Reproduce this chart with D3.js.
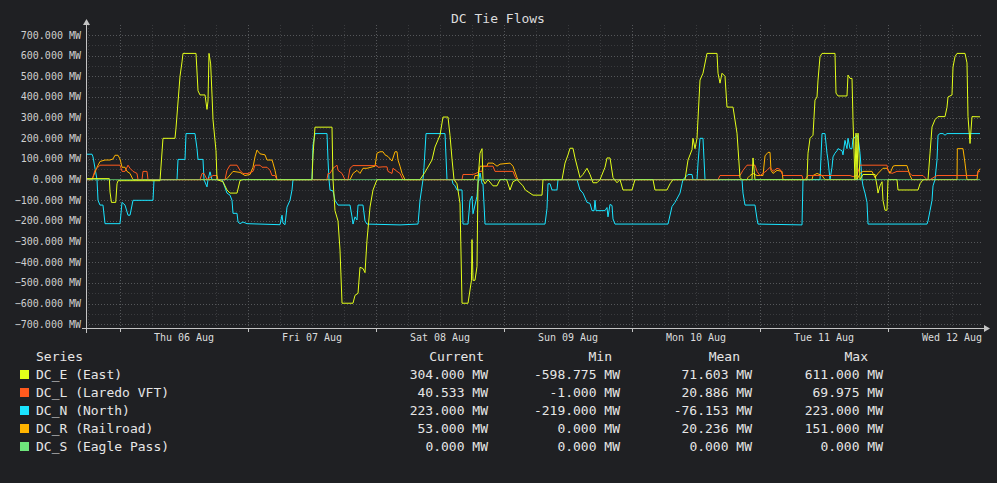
<!DOCTYPE html>
<html>
<head>
<meta charset="utf-8">
<script src="https://cdn.jsdelivr.net/npm/d3@7"></script>
<style>
  html, body { margin: 0; padding: 0; background: #1f2023; }
  svg { display: block; font-family: "DejaVu Sans Mono", monospace; }
</style>
</head>
<body>
<div id="chart"></div>
<script>
// times are hours since Wed 05 Aug 2020 00:00 UTC, values in MW
const dcE = [
  [17.63, 5], [22.0, 5], [22.13, -60], [22.4, -110], [23.2, -110], [23.44, -20], [23.63, -5], [31.5, -5],
  [32.06, 200], [34.31, 200], [34.5, 250], [35.25, 500], [35.63, 570], [35.81, 611], [38.25, 611],
  [38.63, 430], [39.0, 410], [39.94, 410], [40.31, 340], [40.5, 380], [40.69, 611], [41.0, 560],
  [41.25, 410], [41.44, 290], [42.0, 140], [42.19, 0], [43.3, -10], [44.06, -50], [44.63, -65],
  [45.94, -65], [46.5, -5], [47.0, 0], [60.0, 0], [60.19, 120], [60.56, 254], [63.75, 254], [63.94, 0],
  [64.31, -150], [64.88, -200], [65.25, -340], [65.63, -598], [67.69, -598], [68.06, -560], [68.63, -550],
  [69.0, -424], [69.56, -430], [69.94, -450], [70.31, -293], [70.88, -133], [71.44, -50], [72.19, 0],
  [80.25, 0], [81.19, 36], [82.5, 95], [83.06, 158], [84.0, 215], [84.56, 303], [85.5, 303], [85.88, 213],
  [86.25, 100], [86.63, 0], [87.19, -20], [87.75, -115], [88.13, -598], [89.25, -598], [89.9, -487],
  [90.0, -290], [90.19, -487], [90.56, -487], [90.94, -420], [91.13, 0], [91.5, 128], [91.88, 150],
  [92.06, 0], [92.44, -20], [93.0, 0], [93.94, -30], [94.69, -30], [95.25, 0], [96.5, 0], [97.13, -50],
  [97.69, -10], [98.44, 0], [99.56, -30], [100.0, -50], [101.44, -75], [103.13, -75], [103.31, 0],
  [106.88, 0], [107.44, 80], [108.0, 120], [108.38, 152], [108.94, 152], [109.31, 105], [110.25, 10],
  [110.81, 25], [111.56, 55], [112.13, 25], [112.69, -15], [113.44, -15], [114.0, 0], [114.94, 60],
  [115.31, 105], [115.88, 105], [116.44, 10], [117.19, -15], [117.75, 0], [118.31, -50], [120.0, -50],
  [120.56, 0], [123.94, 0], [124.31, -50], [126.56, -50], [127.13, -20], [127.69, 0], [129.94, 0],
  [130.5, 95], [131.25, 145], [131.44, 200], [131.81, 150], [132.19, 200], [132.75, 482], [133.31, 515],
  [134.06, 611], [135.94, 611], [136.13, 515], [136.5, 467], [136.88, 515], [137.44, 500], [137.81, 351],
  [138.94, 351], [139.69, 225], [140.25, 10], [140.63, 0], [142.5, 0], [142.69, 105], [143.06, 0],
  [152.81, 0], [153.0, 128], [153.38, 200], [153.94, 215], [154.31, 385], [154.69, 400], [154.88, 482],
  [155.25, 595], [155.63, 611], [158.06, 611], [158.25, 419], [158.63, 405], [160.31, 405], [160.5, 506],
  [160.88, 490], [161.25, 490], [161.44, 288], [161.81, 0], [162.0, 225], [162.19, 0], [162.38, 225],
  [162.75, 0], [163.31, 25], [165.56, 25], [165.94, -30], [166.13, -65], [166.5, -30], [166.88, -10],
  [167.06, -100], [167.44, -148], [167.81, -148], [168.0, 0], [169.69, 0], [169.88, -50], [173.63, -50],
  [174.0, -20], [174.56, 0], [175.5, 0], [175.88, 128], [176.25, 255], [176.81, 290], [177.38, 305],
  [178.69, 305], [179.06, 350], [179.25, 400], [180.0, 410], [180.19, 545], [180.56, 595], [180.94, 611],
  [182.44, 611], [182.81, 565], [183.0, 305], [183.38, 175], [183.75, 305], [185.25, 304]
];
const dcL = [
  [17.63, 0], [18.75, 0], [18.94, 14], [19.31, 45], [19.88, 60], [20.25, 70], [24.0, 70], [24.38, 40],
  [24.94, 40], [25.5, 70], [25.88, 55], [26.44, 40], [27.19, 30], [27.38, 0], [28.13, 0], [28.31, 40],
  [29.06, 40], [29.25, 0], [39.0, 0], [39.38, 30], [39.75, 30], [40.31, 0], [41.44, 20], [42.19, 20],
  [42.38, 0], [43.69, 0], [44.06, 45], [44.63, 70], [45.94, 70], [46.5, 45], [47.06, 30], [48.0, 30],
  [48.94, 40], [49.31, 70], [50.25, 70], [50.63, 60], [51.56, 60], [52.13, 45], [52.5, 20], [53.06, 20],
  [53.44, 0], [62.81, 0], [63.0, 30], [63.38, 30], [63.94, 55], [64.69, 70], [64.88, 45], [65.63, 30],
  [66.19, 0], [66.75, 0], [67.13, 55], [67.69, 68], [72.19, 68], [72.38, 60], [73.31, 62], [74.06, 62],
  [74.25, 40], [75.0, 30], [75.19, 55], [75.94, 40], [76.5, 30], [77.06, 0], [88.13, 0], [88.31, 25],
  [90.0, 25], [90.56, 28], [91.5, 40], [91.88, 40], [92.06, 65], [93.94, 65], [94.31, 40], [97.69, 40],
  [98.06, 15], [98.44, 0], [136.13, 0], [136.5, 20], [140.25, 20], [140.81, 45], [141.56, 70],
  [143.06, 70], [143.44, 40], [144.0, 20], [144.56, 30], [145.31, 45], [145.88, 60], [146.44, 40],
  [147.19, 55], [147.75, 50], [148.31, 20], [151.88, 20], [152.06, 0], [152.44, 0], [153.0, 20],
  [160.88, 20], [161.44, 15], [162.19, 20], [162.75, 70], [167.81, 70], [168.0, 45], [168.75, 30],
  [169.69, 40], [171.75, 40], [172.5, 20], [174.56, 20], [175.31, 0], [175.88, 0], [177.19, 20],
  [184.69, 20], [184.88, 40], [185.25, 40.5]
];
const dcN = [
  [17.63, 123], [18.75, 123], [18.94, 110], [19.69, 0], [19.88, -100], [20.25, -123], [20.81, -123],
  [21.19, -213], [24.0, -213], [24.38, -110], [24.94, -123], [25.5, -172], [25.88, -172], [26.44, -100],
  [30.19, -100], [30.38, 0], [34.69, 0], [34.88, 98], [36.19, 98], [36.38, 223], [38.06, 223],
  [38.44, 150], [38.63, 98], [39.56, 98], [39.75, 0], [40.31, -35], [40.5, 0], [40.88, 38], [41.25, 0],
  [43.13, 0], [43.31, -10], [44.06, -65], [44.63, -75], [45.0, -100], [45.19, -163], [45.94, -163],
  [46.13, -205], [46.5, -213], [47.06, -205], [47.81, -213], [54.0, -218], [54.38, -172], [54.56, -210],
  [54.94, -218], [55.31, -133], [55.88, -100], [56.25, -50], [56.44, 0], [60.0, 0], [60.19, 167],
  [60.56, 223], [62.81, 223], [63.0, 95], [63.19, 0], [63.38, -50], [63.94, -55], [64.31, -100],
  [64.88, -123], [67.13, -123], [67.5, -180], [67.69, -215], [68.06, -180], [68.44, -195], [68.63, -123],
  [69.56, -123], [69.94, -200], [70.31, -215], [76.5, -219], [79.88, -215], [80.25, -100], [80.81, 0],
  [81.0, 60], [81.38, 223], [84.94, 223], [85.31, 0], [86.25, 0], [86.44, -20], [86.81, -30],
  [87.19, -50], [88.13, -50], [88.31, -215], [89.25, -215], [89.63, -100], [90.0, -80], [90.19, -165],
  [90.94, -80], [91.13, -20], [91.5, 32], [91.88, -20], [92.06, -20], [92.44, -215], [103.69, -215],
  [104.06, -140], [104.25, -20], [104.63, -20], [105.0, -50], [105.94, -50], [106.13, 0], [109.69, 0],
  [110.25, -50], [110.81, -65], [111.56, -110], [112.13, -115], [112.5, -150], [112.9, -150],
  [113.06, -100], [113.25, -150], [114.94, -150], [115.31, -135], [115.5, -180], [115.88, -120],
  [116.25, -125], [116.44, -190], [116.81, -215], [126.75, -215], [127.5, -130], [128.06, -110],
  [129.0, -65], [129.38, -20], [129.56, 0], [130.5, 25], [131.25, 25], [131.44, 0], [132.19, 0],
  [132.38, 80], [132.75, 200], [133.31, 200], [133.69, 0], [140.63, 0], [140.81, -65], [141.19, -123],
  [143.06, -123], [143.44, -190], [143.63, -215], [151.88, -219], [152.06, 0], [155.25, 0],
  [155.63, 223], [156.19, 223], [156.56, 128], [156.75, 95], [157.13, 0], [157.5, 60], [157.69, 110],
  [158.06, 128], [158.44, 140], [158.63, 150], [159.38, 140], [159.56, 120], [159.94, 190],
  [160.31, 150], [160.5, 200], [160.88, 150], [161.25, 150], [161.44, 200], [161.81, 205], [162.19, 215],
  [162.38, 205], [162.75, 128], [163.13, 0], [163.31, -30], [163.69, -65], [164.06, -110], [164.25, -215],
  [175.31, -215], [175.5, -200], [175.88, -150], [176.25, -100], [176.44, -30], [176.81, 0],
  [177.19, 95], [177.38, 215], [177.75, 223], [178.31, 223], [178.69, 215], [179.06, 223], [185.25, 223]
];
const dcR = [
  [17.63, 0], [18.75, 0], [19.69, 60], [20.25, 88], [21.19, 95], [22.13, 95], [22.69, 100],
  [23.06, 118], [23.63, 118], [24.0, 100], [24.38, 60], [24.94, 60], [25.31, 40], [25.88, 30],
  [26.44, 0], [43.69, 0], [44.06, 5], [45.19, 40], [46.5, 35], [47.44, 20], [48.38, 25], [48.94, 60],
  [49.31, 110], [49.69, 143], [50.25, 125], [51.19, 120], [51.56, 95], [52.5, 95], [52.69, 80],
  [53.06, 45], [53.44, 0], [67.13, 0], [67.69, 30], [68.44, 45], [69.0, 30], [69.56, 55], [70.31, 55],
  [71.81, 65], [72.19, 128], [72.75, 135], [73.31, 135], [73.69, 120], [74.25, 112], [75.0, 90],
  [75.56, 135], [75.94, 135], [76.13, 95], [76.5, 65], [76.88, 30], [77.44, 0], [90.4, 0], [90.56, 20],
  [91.13, 20], [91.5, 65], [92.81, 65], [93.0, 80], [93.94, 80], [94.69, 65], [95.25, 75], [97.13, 80],
  [97.69, 65], [98.44, 10], [98.63, 0], [141.56, 0], [141.75, 10], [142.13, 20], [142.69, 30],
  [143.44, 20], [144.56, 20], [144.94, 115], [145.5, 132], [145.88, 132], [146.06, 45], [146.44, 30],
  [147.19, 45], [148.13, 40], [148.31, 0], [153.75, 0], [153.94, 20], [154.69, 30], [155.63, 20],
  [156.19, 0], [162.19, 0], [162.75, 30], [163.31, 40], [165.0, 40], [165.56, 10], [166.13, 30],
  [167.06, 55], [167.81, 55], [168.38, 30], [168.94, 65], [169.31, 68], [171.56, 68], [172.13, 20],
  [172.5, 0], [180.94, 0], [181.0, 150], [182.06, 150], [182.44, 80], [182.81, 0], [184.69, 0],
  [184.88, 40], [185.25, 53]
];
const dcS = [[17.63, 0], [185.25, 0]];

const seriesNames = ['DC_E (East)', 'DC_L (Laredo VFT)', 'DC_N (North)', 'DC_R (Railroad)', 'DC_S (Eagle Pass)'];
const seriesColors = ['#e4ff1a', '#ff5a1e', '#1ae4ff', '#ffb400', '#6ee67c'];
const seriesData = [dcE, dcL, dcN, dcR, dcS];
const statHeaders = ['Current', 'Min', 'Mean', 'Max'];
const currentVals = ['304.000 MW', '40.533 MW', '223.000 MW', '53.000 MW', '0.000 MW'];
const minVals = ['-598.775 MW', '-1.000 MW', '-219.000 MW', '0.000 MW', '0.000 MW'];
const meanVals = ['71.603 MW', '20.886 MW', '-76.153 MW', '20.236 MW', '0.000 MW'];
const maxVals = ['611.000 MW', '69.975 MW', '223.000 MW', '151.000 MW', '0.000 MW'];
const yTicks = d3.range(-700, 701, 100);
const yMinorTicks = d3.range(-650, 700, 100);

const W = 997, H = 483;
const T0 = Date.UTC(2020, 7, 5);
const toDate = (h) => new Date(T0 + h * 3600e3);

const svg = d3.select('#chart').append('svg').attr('width', W).attr('height', H);
svg.append('rect').attr('width', W).attr('height', H).attr('fill', '#1f2023');

const x = d3.scaleUtc().domain([toDate(17.625), toDate(185.625)]).range([86, 982]);
const y = d3.scaleLinear().domain([-700, 700]).range([324.3, 35]);
const plotTop = 25, plotBottom = 329;

// title
svg.append('text').attr('x', 498).attr('y', 23).attr('text-anchor', 'middle')
  .attr('fill', '#dcdcdc').attr('font-size', 13).text('DC Tie Flows');

// grid
const grid = svg.append('g').attr('fill', 'none');
grid.selectAll('.ymin').data(yMinorTicks).join('line')
  .attr('x1', 86).attr('x2', 983).attr('y1', (d) => Math.round(y(d)) + 0.5).attr('y2', (d) => Math.round(y(d)) + 0.5)
  .attr('stroke', '#3a3b3e').attr('stroke-dasharray', '1,2');
grid.selectAll('.ymaj').data(yTicks).join('line')
  .attr('x1', 86).attr('x2', 983).attr('y1', (d) => Math.round(y(d)) + 0.5).attr('y2', (d) => Math.round(y(d)) + 0.5)
  .attr('stroke', '#55575a').attr('stroke-dasharray', '1,2');
const hours6 = d3.utcHour.every(6).range(x.domain()[0], x.domain()[1]);
grid.selectAll('.xg').data(hours6).join('line')
  .attr('x1', (d) => Math.round(x(d)) + 0.5).attr('x2', (d) => Math.round(x(d)) + 0.5)
  .attr('y1', plotTop).attr('y2', plotBottom)
  .attr('stroke', (d) => d.getUTCHours() === 0 ? '#55575a' : '#3a3b3e')
  .attr('stroke-dasharray', '1,2');

// series
const line = d3.line().x((d) => x(toDate(d[0]))).y((d) => y(d[1]));
const order = [2, 3, 1, 0, 4];
order.forEach((i) => {
  svg.append('path').datum(seriesData[i])
    .attr('fill', 'none').attr('stroke', seriesColors[i])
    .attr('stroke-width', 1).attr('stroke-linejoin', 'round')
    .attr('stroke-opacity', i === 4 ? 0.75 : 1)
    .attr('d', line);
});

// axes
const axisColor = '#c4c4c4';
svg.append('line').attr('x1', 86.5).attr('x2', 86.5).attr('y1', plotBottom + 4).attr('y2', 24).attr('stroke', axisColor);
svg.append('path').attr('d', 'M86.5,19 L83,25 L90,25 Z').attr('fill', axisColor);
svg.append('line').attr('x1', 82).attr('x2', 985).attr('y1', plotBottom - 0.5).attr('y2', plotBottom - 0.5).attr('stroke', axisColor);
svg.append('path').attr('d', `M990,${plotBottom - 0.5} L984,${plotBottom - 4} L984,${plotBottom + 3} Z`).attr('fill', axisColor);

const yAxisG = svg.append('g').attr('font-size', 10).attr('fill', '#cfcfcf');
yAxisG.selectAll('text').data(yTicks).join('text')
  .attr('x', 81).attr('y', (d) => y(d)).attr('dy', '0.35em').attr('text-anchor', 'end')
  .text((d) => d3.format('.3f')(d) + ' MW');

const days = d3.utcDay.range(x.domain()[0], x.domain()[1]);
svg.selectAll('.dtick').data(days).join('line')
  .attr('x1', (d) => Math.round(x(d)) + 0.5).attr('x2', (d) => Math.round(x(d)) + 0.5)
  .attr('y1', plotBottom).attr('y2', plotBottom + 3).attr('stroke', axisColor);
const noons = days.map((d) => d3.utcHour.offset(d, 12));
svg.append('g').attr('font-size', 10).attr('fill', '#dcdcdc')
  .selectAll('text').data(noons).join('text')
  .attr('x', (d) => x(d)).attr('y', 341).attr('text-anchor', 'middle')
  .text((d) => d3.utcFormat('%a %d %b')(d));

// legend table
const leg = svg.append('g').attr('font-size', 13).attr('fill', '#e6e6e6');
const rowY = (i) => 379 + i * 18;
leg.append('text').attr('x', 36).attr('y', 361).text('Series');
const headerX = [484, 612, 740, 868];
const valueX = [488, 620, 752, 883];
const cols = [currentVals, minVals, meanVals, maxVals];
statHeaders.forEach((h, j) => {
  leg.append('text').attr('x', headerX[j]).attr('y', 361).attr('text-anchor', 'end').text(h);
});
seriesNames.forEach((name, i) => {
  leg.append('rect').attr('x', 20).attr('y', rowY(i) - 9).attr('width', 9).attr('height', 9).attr('fill', seriesColors[i]);
  leg.append('text').attr('x', 36).attr('y', rowY(i)).text(name);
  cols.forEach((col, j) => {
    leg.append('text').attr('x', valueX[j]).attr('y', rowY(i)).attr('text-anchor', 'end').text(col[i]);
  });
});
</script>
</body>
</html>
